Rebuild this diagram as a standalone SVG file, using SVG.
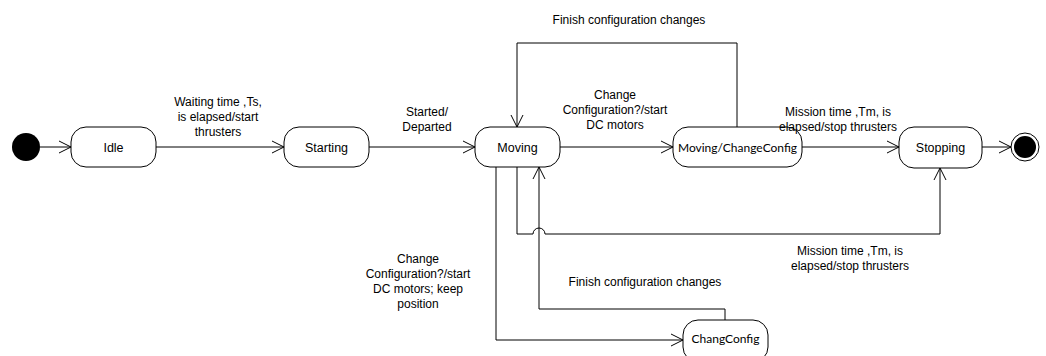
<svg xmlns="http://www.w3.org/2000/svg" width="1046" height="356" viewBox="0 0 1046 356">
<style>
.node rect{fill:#fff;stroke:#000;stroke-width:1}
.lbl{font-family:"Liberation Sans",Arial,sans-serif;font-size:12px;fill:#000;text-anchor:middle}
.nt{font-family:"Liberation Sans",Arial,sans-serif;font-size:12.5px;fill:#000;text-anchor:middle}
.nc{font-family:Lato,"Open Sans",sans-serif;font-size:12px;fill:#000;text-anchor:middle}
.edge{fill:none;stroke:#000;stroke-width:1}
.ah{fill:none;stroke:#000;stroke-width:1}
</style>
<rect width="1046" height="356" fill="#fff"/>
<g id="connectors">
<path class="edge" d="M40,147 H71"/>
<path class="ah" d="M59,141 L71,147 L59,153"/>
<path class="edge" d="M156,147 H284"/>
<path class="ah" d="M272,141 L284,147 L272,153"/>
<path class="edge" d="M369,147 H475"/>
<path class="ah" d="M463,141 L475,147 L463,153"/>
<path class="edge" d="M560,147 H673"/>
<path class="ah" d="M661,141 L673,147 L661,153"/>
<path class="edge" d="M802,147 H899"/>
<path class="ah" d="M887,141 L899,147 L887,153"/>
<path class="edge" d="M982,147 H1011"/>
<path class="ah" d="M999,141 L1011,147 L999,153"/>
<path class="edge" d="M737,127 V43 H517 V127"/>
<path class="ah" d="M511,115 L517,127 L523,115"/>
<path class="edge" d="M496,167 V340 H683"/>
<path class="ah" d="M671,334 L683,340 L671,346"/>
<path class="edge" d="M725,320 V309 H539 V167"/>
<path class="ah" d="M533,179 L539,167 L545,179"/>
<path class="edge" d="M517,167 V234 H533 A6,6 0 0 1 545,234 H940 V168"/>
<path class="ah" d="M934,180 L940,168 L946,180"/>
</g>
<g id="initial"><circle cx="26" cy="147" r="14" fill="#000"/></g>
<g id="idle" class="node"><rect x="71" y="127" width="85" height="40" rx="15"/><text class="nt" x="113.5" y="151.5">Idle</text></g>
<g id="starting" class="node"><rect x="284" y="127" width="85" height="40" rx="15"/><text class="nt" x="326.5" y="151.5">Starting</text></g>
<g id="moving" class="node"><rect x="475" y="127" width="85" height="40" rx="15"/><text class="nt" x="517.5" y="151.5">Moving</text></g>
<g id="movingchangeconfig" class="node"><rect x="673" y="127" width="129" height="40" rx="15"/><text class="nc" x="737.5" y="151.5">Moving/ChangeConfig</text></g>
<g id="stopping" class="node"><rect x="899" y="127" width="83" height="41" rx="15"/><text class="nt" x="940.5" y="151.5">Stopping</text></g>
<g id="final"><circle cx="1025" cy="147" r="14" fill="#fff" stroke="#000"/><circle cx="1025" cy="147" r="11" fill="#000"/></g>
<g id="changconfig" class="node"><rect x="683" y="320" width="85" height="42" rx="15"/><text class="nc" x="725.5" y="343">ChangConfig</text></g>
<g id="labels">
<text class="lbl" x="218" y="106">Waiting time ,Ts,</text>
<text class="lbl" x="218" y="121">is elapsed/start</text>
<text class="lbl" x="218" y="136">thrusters</text>
<text class="lbl" x="427" y="116">Started/</text>
<text class="lbl" x="427" y="131">Departed</text>
<text class="lbl" x="615" y="99">Change</text>
<text class="lbl" x="615" y="114">Configuration?/start</text>
<text class="lbl" x="615" y="129">DC motors</text>
<text class="lbl" x="629" y="24">Finish configuration changes</text>
<text class="lbl" x="838" y="116">Mission time ,Tm, is</text>
<text class="lbl" x="838" y="131">elapsed/stop thrusters</text>
<text class="lbl" x="418" y="263">Change</text>
<text class="lbl" x="418" y="278">Configuration?/start</text>
<text class="lbl" x="418" y="293">DC motors; keep</text>
<text class="lbl" x="418" y="308">position</text>
<text class="lbl" x="645" y="286">Finish configuration changes</text>
<text class="lbl" x="850" y="255">Mission time ,Tm, is</text>
<text class="lbl" x="850" y="270">elapsed/stop thrusters</text>
</g>
</svg>
